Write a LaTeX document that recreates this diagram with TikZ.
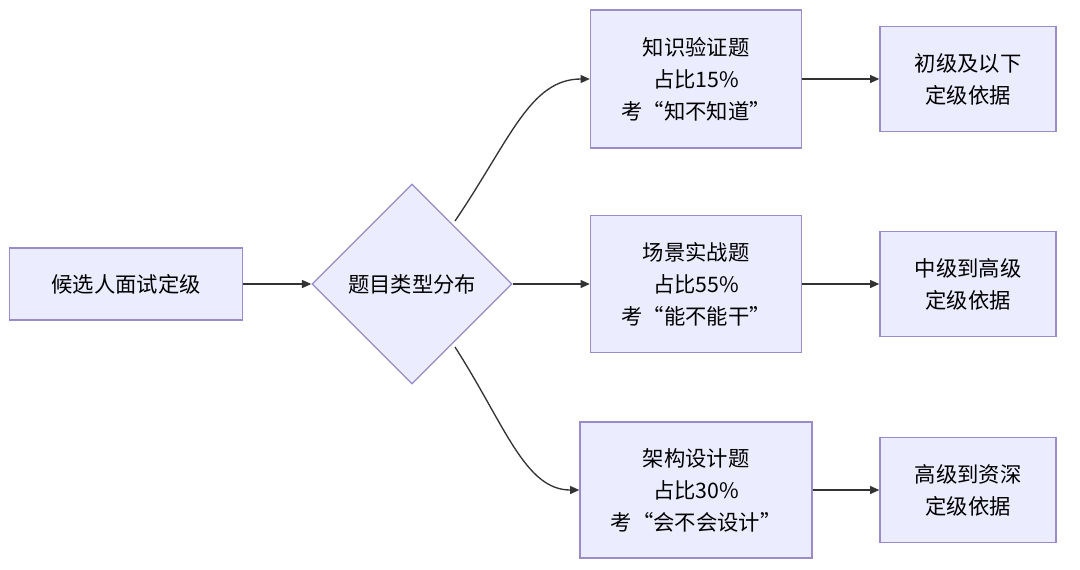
\documentclass[tikz,border=0pt]{standalone}
\usepackage{fontspec}
\setmainfont{Noto Sans CJK SC}
\usetikzlibrary{shapes.geometric,arrows.meta}
\tikzset{every picture/.style={line width=0.75pt}}
\begin{document}
\begin{tikzpicture}[x=0.75pt,y=0.75pt,yscale=-1,xscale=1,
  box/.style={draw=boxline,fill=boxfill,line width=1pt,align=center,inner sep=0pt,font=\fontsize{16}{24}\selectfont},
  link/.style={draw=linkcol,line width=1pt,-{Triangle[length=7pt,width=6pt]}}]
\definecolor{boxfill}{HTML}{ECECFF}
\definecolor{boxline}{HTML}{9A8CC8}
\definecolor{linkcol}{HTML}{333333}
\useasboundingbox (0,0) rectangle (1080,569);

% Nodes
\node [box,minimum width=174.75pt,minimum height=54pt] (cand) at (126,284) {候选人面试定级};
\node [box,diamond,aspect=1,minimum width=150pt,minimum height=150pt] (type) at (412,284) {题目类型分布};
\node [box,minimum width=158.25pt,minimum height=103.5pt] (know) at (696,79) {知识验证题\\占比15\%\\考“知不知道”};
\node [box,minimum width=158.25pt,minimum height=102.75pt] (scene) at (696,284) {场景实战题\\占比55\%\\考“能不能干”};
\node [box,minimum width=174pt,minimum height=102pt] (arch) at (696,490) {架构设计题\\占比30\%\\考“会不会设计”};
\node [box,minimum width=132pt,minimum height=78.75pt] (junior) at (968,79) {初级及以下\\定级依据};
\node [box,minimum width=132pt,minimum height=78.75pt] (middle) at (968,284) {中级到高级\\定级依据};
\node [box,minimum width=132pt,minimum height=78.75pt] (senior) at (968,490) {高级到资深\\定级依据};

% Links
\draw [link] (cand) -- (type);
\draw [link] (type.east) -- (scene);
\draw [link] (455,221) .. controls (510,140) and (530,79) .. (know.west);
\draw [link] (455,347) .. controls (505,425) and (525,490) .. (arch.west);
\draw [link] (know) -- (junior);
\draw [link] (scene) -- (middle);
\draw [link] (arch) -- (senior);
\end{tikzpicture}
\end{document}
